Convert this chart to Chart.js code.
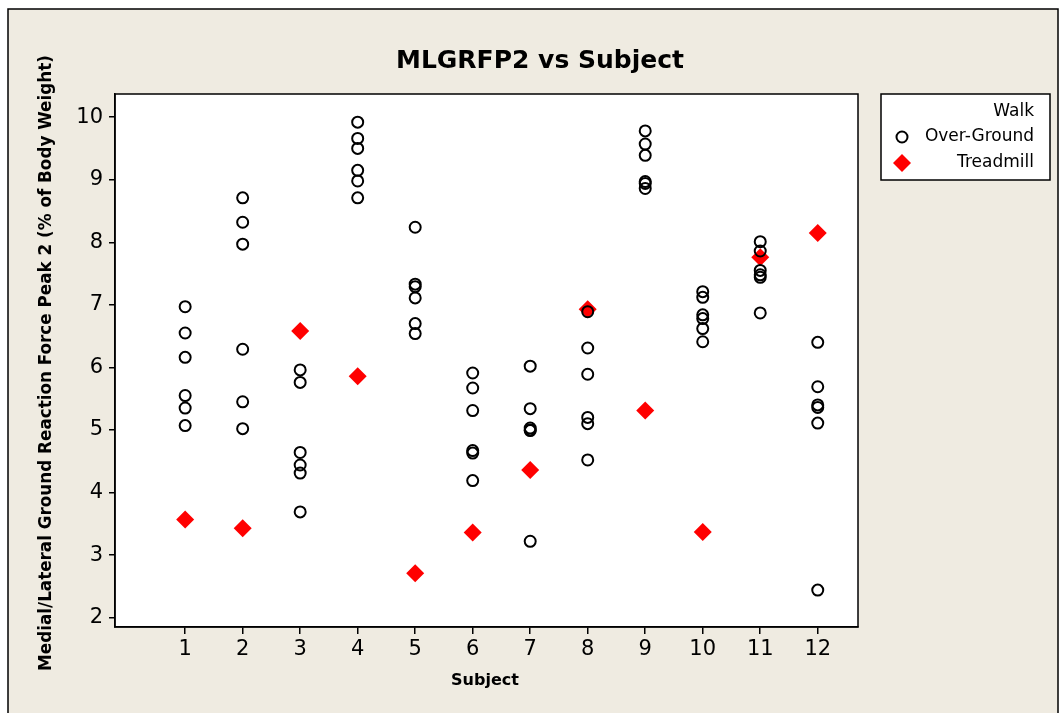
<!DOCTYPE html>
<html>
<head>
<meta charset="utf-8">
<title>MLGRFP2 vs Subject</title>
<script src="https://cdn.jsdelivr.net/npm/chart.js@4.4.1/dist/chart.umd.min.js"></script>
<style>
  html, body { margin: 0; padding: 0; background: #fff; overflow: hidden; }
  canvas { display: block; }
</style>
</head>
<body>
<canvas id="chart" width="1060" height="713"></canvas>
<script>
// --- Data ---
const subjects = [1, 2, 3, 4, 5, 6, 7, 8, 9, 10, 11, 12];
const overGround = [
  [6.97, 6.55, 6.16, 5.55, 5.35, 5.07],
  [8.71, 8.32, 7.97, 6.29, 5.45, 5.02],
  [5.96, 5.76, 4.64, 4.44, 4.31, 3.69],
  [9.92, 9.66, 9.50, 9.15, 8.98, 8.71],
  [8.24, 7.33, 7.29, 7.11, 6.70, 6.54],
  [5.91, 5.67, 5.31, 4.67, 4.63, 4.19],
  [6.02, 5.34, 5.03, 5.00, 4.99, 3.22],
  [6.89, 6.31, 5.89, 5.20, 5.10, 4.52],
  [9.78, 9.57, 9.39, 8.97, 8.94, 8.86],
  [7.21, 7.12, 6.84, 6.78, 6.62, 6.41],
  [8.01, 7.86, 7.55, 7.48, 7.44, 6.87],
  [6.40, 5.69, 5.40, 5.36, 5.11, 2.44]
];
const treadmill = [3.57, 3.43, 6.58, 5.86, 2.71, 3.36, 4.36, 6.93, 5.31, 3.37, 7.76, 8.15];
const xTicks = [1, 2, 3, 4, 5, 6, 7, 8, 9, 10, 11, 12];
const yTicks = [2, 3, 4, 5, 6, 7, 8, 9, 10];

const FONT = '"DejaVu Sans", Verdana, sans-serif';
const FRAME_BG = '#efebe1';

const overPoints = [];
subjects.forEach((s, i) => overGround[i].forEach(v => overPoints.push({ x: s, y: v })));
const treadPoints = subjects.map((s, i) => ({ x: s, y: treadmill[i] }));

// --- Frame, plot box, titles, legend ---
const decor = {
  id: 'decor',
  beforeDraw(chart) {
    const { ctx, chartArea: a } = chart;
    ctx.save();
    ctx.fillStyle = '#fff';
    ctx.fillRect(0, 0, chart.width, chart.height);
    ctx.fillStyle = FRAME_BG;
    ctx.fillRect(8, 9, 1050, 710);
    ctx.strokeStyle = '#000';
    ctx.lineWidth = 1.5;
    ctx.strokeRect(8, 9, 1050, 710);
    ctx.fillStyle = '#fff';
    ctx.fillRect(a.left, a.top, a.right - a.left, a.bottom - a.top);
    ctx.restore();
  },
  afterDraw(chart) {
    const { ctx, chartArea: a } = chart;
    ctx.save();
    ctx.strokeStyle = '#000';
    ctx.lineWidth = 1.5;
    ctx.strokeRect(a.left, a.top, a.right - a.left, a.bottom - a.top);

    ctx.fillStyle = '#000';
    ctx.textAlign = 'center';
    ctx.textBaseline = 'middle';
    ctx.font = 'bold 25px ' + FONT;
    ctx.fillText('MLGRFP2 vs Subject', 540, 61);
    ctx.font = 'bold 16px ' + FONT;
    ctx.fillText('Subject', 485, 681);
    ctx.translate(47, 363);
    ctx.rotate(-Math.PI / 2);
    ctx.font = 'bold 16.8px ' + FONT;
    ctx.fillText('Medial/Lateral Ground Reaction Force Peak 2 (% of Body Weight)', 0, 0);
    ctx.restore();

    // legend
    ctx.save();
    ctx.fillStyle = '#fff';
    ctx.fillRect(881, 94, 169, 86);
    ctx.strokeStyle = '#000';
    ctx.lineWidth = 1.5;
    ctx.strokeRect(881, 94, 169, 86);
    ctx.fillStyle = '#000';
    ctx.font = '17px ' + FONT;
    ctx.textAlign = 'right';
    ctx.textBaseline = 'middle';
    ctx.fillText('Walk', 1034, 112);
    ctx.fillText('Over-Ground', 1034, 137);
    ctx.fillText('Treadmill', 1034, 163);
    const ds = chart.data.datasets;
    ctx.beginPath();
    ctx.arc(902, 137, ds[0].pointRadius, 0, Math.PI * 2);
    ctx.strokeStyle = ds[0].borderColor;
    ctx.lineWidth = ds[0].pointBorderWidth;
    ctx.stroke();
    ctx.fillStyle = ds[1].backgroundColor;
    Chart.helpers.drawPoint(ctx, { pointStyle: 'rectRot', radius: ds[1].pointRadius, borderWidth: 0 }, 902, 163);
    ctx.restore();
  }
};

new Chart(document.getElementById('chart'), {
  type: 'scatter',
  data: {
    datasets: [
      {
        label: 'Over-Ground',
        data: overPoints,
        pointStyle: 'circle',
        pointRadius: 5.5,
        pointBorderWidth: 2,
        borderColor: '#000',
        backgroundColor: 'rgba(0,0,0,0)'
      },
      {
        label: 'Treadmill',
        data: treadPoints,
        pointStyle: 'rectRot',
        pointRadius: 9,
        pointBorderWidth: 0,
        borderColor: '#ff0000',
        backgroundColor: '#ff0000'
      }
    ]
  },
  options: {
    responsive: false,
    animation: false,
    devicePixelRatio: 1,
    layout: { padding: { left: 0, top: 94, right: 202, bottom: 0 } },
    plugins: {
      legend: { display: false },
      title: { display: false },
      tooltip: { enabled: false }
    },
    scales: {
      x: {
        type: 'linear',
        min: -0.22,
        max: 12.7,
        afterBuildTicks: s => { s.ticks = xTicks.map(v => ({ value: v })); },
        afterFit: s => { s.height = 86; },
        grid: { drawOnChartArea: false, tickLength: 7, color: '#000', lineWidth: 1.5 },
        border: { display: true, color: '#000', width: 1.5 },
        ticks: { color: '#000', font: { family: FONT, size: 21 }, padding: 3, maxRotation: 0 }
      },
      y: {
        type: 'linear',
        min: 1.85,
        max: 10.37,
        afterBuildTicks: s => { s.ticks = yTicks.map(v => ({ value: v })); },
        afterFit: s => { s.width = 115; },
        grid: { drawOnChartArea: false, tickLength: 6, color: '#000', lineWidth: 1.5 },
        border: { display: true, color: '#000', width: 1.5 },
        ticks: { color: '#000', font: { family: FONT, size: 21 }, padding: 6 }
      }
    }
  },
  plugins: [decor]
});
</script>
</body>
</html>
